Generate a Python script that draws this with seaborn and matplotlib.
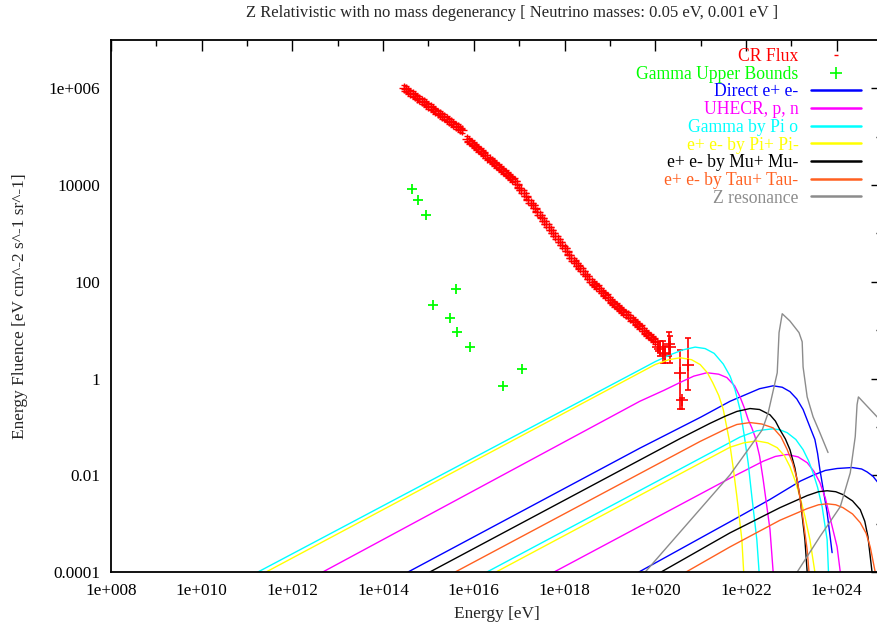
import numpy as np
import pandas as pd
import matplotlib
matplotlib.use("Agg")
import matplotlib.pyplot as plt
from matplotlib.lines import Line2D
from matplotlib.ticker import NullFormatter
import seaborn as sns

sns.set_theme(style="white")
plt.rcParams["font.family"] = ["Liberation Serif", "DejaVu Serif"]

# ---------------- datos (log10) ----------------
title = "Z Relativistic with no mass degenerancy [ Neutrino masses: 0.05 eV, 0.001 eV ]"

x_tick_values = [1e8, 1e10, 1e12, 1e14, 1e16, 1e18, 1e20, 1e22, 1e24]
x_tick_labels = ["1e+008", "1e+010", "1e+012", "1e+014", "1e+016",
                 "1e+018", "1e+020", "1e+022", "1e+024"]
x_minor_values = [1e9, 1e11, 1e13, 1e15, 1e17, 1e19, 1e21, 1e23]
y_tick_values = [1e-4, 1e-2, 1, 1e2, 1e4, 1e6]
y_tick_labels = ["0.0001", "0.01", "1", "100", "10000", "1e+006"]
y_minor_values = [1e-3, 1e-1, 1e1, 1e3, 1e5]

# CR flux (banda densa)
cr_band_loge = [14.45, 14.50, 14.55, 14.60, 14.65, 14.70, 14.75, 14.80, 14.85, 14.90,
                14.95, 15.00, 15.05, 15.10, 15.15, 15.20, 15.25, 15.30, 15.35, 15.40,
                15.45, 15.50, 15.55, 15.60, 15.65, 15.70, 15.75,
                15.85, 15.90, 15.95, 16.00, 16.05, 16.10, 16.15, 16.20, 16.25, 16.30,
                16.35, 16.40, 16.45, 16.50, 16.55, 16.60, 16.65, 16.70, 16.75, 16.80,
                16.85, 16.90, 16.95, 17.00, 17.05, 17.10, 17.15, 17.20, 17.25, 17.30,
                17.35, 17.40, 17.45, 17.50, 17.55, 17.60, 17.65, 17.70, 17.75, 17.80,
                17.85, 17.90, 17.95, 18.00, 18.05, 18.10, 18.15, 18.20, 18.25, 18.30,
                18.35, 18.40, 18.45, 18.50, 18.55, 18.60, 18.65, 18.70, 18.75, 18.80,
                18.85, 18.90, 18.95, 19.00, 19.05, 19.10, 19.15, 19.20, 19.25, 19.30,
                19.35, 19.40, 19.45, 19.50, 19.55, 19.60, 19.65, 19.70, 19.75, 19.80,
                19.85, 19.90, 19.95, 20.00]
cr_band_logf = [6.01, 5.98, 5.95, 5.91, 5.88, 5.85, 5.81, 5.78, 5.74, 5.71,
                5.68, 5.64, 5.61, 5.57, 5.54, 5.50, 5.47, 5.43, 5.40, 5.37,
                5.33, 5.30, 5.27, 5.23, 5.20, 5.16, 5.13,
                4.95, 4.91, 4.87, 4.83, 4.79, 4.74, 4.70, 4.66, 4.62, 4.57,
                4.53, 4.49, 4.45, 4.41, 4.37, 4.33, 4.29, 4.25, 4.21, 4.17,
                4.13, 4.08, 4.02, 3.95, 3.89, 3.83, 3.77, 3.70, 3.64, 3.58,
                3.52, 3.45, 3.39, 3.32, 3.26, 3.20, 3.14, 3.07, 3.01, 2.95,
                2.89, 2.82, 2.76, 2.69, 2.63, 2.56, 2.50, 2.44, 2.39, 2.33,
                2.28, 2.22, 2.17, 2.11, 2.06, 2.00, 1.96, 1.91, 1.87, 1.82,
                1.77, 1.72, 1.68, 1.63, 1.59, 1.54, 1.50, 1.46, 1.42, 1.38,
                1.34, 1.31, 1.26, 1.22, 1.17, 1.13, 1.08, 1.04, 0.99, 0.95,
                0.90, 0.86, 0.81, 0.77]
cr_band_err = 0.06
# CR flux (ultimos puntos, con barras grandes)
cr_tail_loge = [20.07, 20.10, 20.18, 20.22, 20.30, 20.33, 20.55, 20.58, 20.73]
cr_tail_logf = [0.66, 0.62, 0.53, 0.50, 0.72, 0.66, 0.11, -0.44, 0.29]
cr_tail_low = [0.56, 0.47, 0.33, 0.32, 0.47, 0.32, -0.64, -0.64, -0.23]
cr_tail_high = [0.76, 0.77, 0.78, 0.68, 0.97, 0.87, 0.59, -0.40, 0.84]

# Gamma upper bounds
gamma_loge = [14.63, 14.78, 14.94, 15.60, 15.11, 15.47, 15.62, 15.92, 17.06, 16.65]
gamma_logf = [3.92, 3.69, 3.38, 1.86, 1.52, 1.26, 0.96, 0.66, 0.20, -0.16]

# Direct e+ e-
direct_a_loge = [14.55, 19.66, 21.0, 21.65, 22.0, 22.3, 22.60, 22.8, 22.97, 23.12, 23.26,
                 23.41, 23.52, 23.58, 23.63, 23.79, 23.90]
direct_a_logf = [-4.0, -1.44, -0.80, -0.47, -0.33, -0.21, -0.15, -0.18, -0.27, -0.42, -0.64,
                 -1.00, -1.26, -1.55, -1.88, -2.77, -3.60]
direct_b_loge = [19.64, 21.65, 22.53, 23.2, 23.48, 23.75, 24.01, 24.34, 24.55, 24.67, 24.80, 24.91, 25.0]
direct_b_logf = [-4.0, -2.96, -2.50, -2.12, -2.00, -1.90, -1.86, -1.84, -1.87, -1.93, -2.02, -2.15, -2.30]
# UHECR, p, n
uhecr_a_loge = [12.67, 19.66, 20.2, 20.55, 20.85, 21.14, 21.4, 21.58, 21.75, 21.87, 21.97,
                22.05, 22.13, 22.20, 22.30, 22.38, 22.53, 22.60]
uhecr_a_logf = [-4.0, -0.47, -0.24, -0.08, 0.05, 0.12, 0.09, 0.02, -0.15, -0.38, -0.62,
                -0.85, -1.02, -1.20, -1.60, -2.09, -3.12, -4.0]
uhecr_b_loge = [17.77, 21.65, 22.38, 22.65, 22.91, 23.15, 23.35, 23.50, 23.63, 23.75, 23.85, 24.01, 24.08]
uhecr_b_logf = [-4.0, -2.06, -1.71, -1.61, -1.57, -1.62, -1.74, -1.92, -2.15, -2.47, -2.86, -3.48, -4.0]
# Gamma by Pi o
gpi_a_loge = [11.24, 19.66, 20.0, 20.3, 20.6, 20.88, 21.1, 21.3, 21.5, 21.65, 21.76, 21.87,
              21.96, 22.05, 22.13, 22.24, 22.29]
gpi_a_logf = [-4.0, 0.18, 0.35, 0.48, 0.59, 0.65, 0.62, 0.52, 0.30, 0.05, -0.23, -0.64,
              -1.16, -1.75, -2.44, -3.33, -4.0]
gpi_b_loge = [16.29, 19.66, 21.87, 22.24, 22.58, 22.75, 22.91, 23.1, 23.26, 23.38, 23.48,
              23.58, 23.68, 23.79, 23.82]
gpi_b_logf = [-4.0, -2.315, -1.21, -1.08, -1.04, -1.06, -1.12, -1.26, -1.47, -1.70, -1.95,
              -2.25, -2.65, -3.33, -4.0]
# e+ e- by Pi+ Pi-
pi_a_loge = [11.42, 19.66, 20.0, 20.3, 20.55, 20.8, 20.99, 21.15, 21.27, 21.40, 21.50,
             21.63, 21.72, 21.80, 21.91, 21.95]
pi_a_logf = [-4.0, 0.12, 0.29, 0.39, 0.43, 0.39, 0.29, 0.12, -0.09, -0.35, -0.64,
             -1.26, -1.85, -2.44, -3.33, -4.0]
pi_b_loge = [16.49, 21.65, 21.95, 22.24, 22.48, 22.69, 22.85, 22.97, 23.08, 23.19, 23.30, 23.41, 23.52]
pi_b_logf = [-4.0, -1.42, -1.33, -1.29, -1.33, -1.43, -1.60, -1.82, -2.10, -2.44, -2.85, -3.33, -4.0]
# e+ e- by Mu+ Mu-
mu_a_loge = [15.03, 19.66, 20.55, 21.2, 21.54, 21.8, 22.09, 22.3, 22.53, 22.65, 22.75,
             22.87, 22.97, 23.08, 23.19, 23.30, 23.35]
mu_a_logf = [-4.0, -1.685, -1.24, -0.93, -0.78, -0.68, -0.62, -0.64, -0.75, -0.88, -1.06,
             -1.25, -1.47, -1.85, -2.44, -3.33, -4.0]
mu_b_loge = [20.13, 21.65, 22.75, 23.35, 23.6, 23.79, 23.98, 24.14, 24.35, 24.52, 24.62, 24.69, 24.78]
mu_b_logf = [-4.0, -3.19, -2.67, -2.42, -2.34, -2.32, -2.34, -2.40, -2.53, -2.71, -2.95, -3.27, -4.0]
# e+ e- by Tau+ Tau-
tau_a_loge = [15.59, 19.66, 20.99, 21.54, 21.8, 22.09, 22.35, 22.60, 22.77, 22.91, 23.03,
              23.13, 23.24, 23.35, 23.39]
tau_a_logf = [-4.0, -1.965, -1.30, -1.05, -0.95, -0.91, -0.94, -1.02, -1.20, -1.47, -1.75,
              -2.09, -2.77, -3.54, -4.0]
tau_b_loge = [20.68, 21.65, 22.75, 23.35, 23.6, 23.79, 23.98, 24.14, 24.35, 24.52, 24.65, 24.74, 24.85]
tau_b_logf = [-4.0, -3.48, -2.93, -2.69, -2.61, -2.59, -2.61, -2.67, -2.80, -2.98, -3.20, -3.48, -4.0]
# Z resonance
z_a_loge = [19.78, 21.65, 22.36, 22.49, 22.69, 22.73, 22.80, 22.97, 23.17, 23.24, 23.26,
            23.35, 23.48, 23.63, 23.81]
z_a_logf = [-4.0, -1.99, -1.06, -0.71, 0.12, 0.95, 1.34, 1.19, 0.95, 0.76, 0.24,
            -0.38, -0.79, -1.12, -1.53]
z_b_loge = [23.13, 23.63, 24.08, 24.30, 24.41, 24.45, 24.48, 24.74, 24.89, 25.0]
z_b_logf = [-4.0, -3.27, -2.65, -1.95, -1.20, -0.54, -0.38, -0.64, -0.79, -0.89]

processes = ["Direct e+ e-", "UHECR, p, n", "Gamma by Pi o", "e+ e- by Pi+ Pi-",
             "e+ e- by Mu+ Mu-", "e+ e- by Tau+ Tau-", "Z resonance"]
colors = ["#0000ff", "#ff00ff", "#00ffff", "#ffff00", "#000000", "#ff6020", "#8c8c8c"]

curves = [
    ("Direct e+ e-", "a", direct_a_loge, direct_a_logf),
    ("Direct e+ e-", "b", direct_b_loge, direct_b_logf),
    ("UHECR, p, n", "a", uhecr_a_loge, uhecr_a_logf),
    ("UHECR, p, n", "b", uhecr_b_loge, uhecr_b_logf),
    ("Gamma by Pi o", "a", gpi_a_loge, gpi_a_logf),
    ("Gamma by Pi o", "b", gpi_b_loge, gpi_b_logf),
    ("e+ e- by Pi+ Pi-", "a", pi_a_loge, pi_a_logf),
    ("e+ e- by Pi+ Pi-", "b", pi_b_loge, pi_b_logf),
    ("e+ e- by Mu+ Mu-", "a", mu_a_loge, mu_a_logf),
    ("e+ e- by Mu+ Mu-", "b", mu_b_loge, mu_b_logf),
    ("e+ e- by Tau+ Tau-", "a", tau_a_loge, tau_a_logf),
    ("e+ e- by Tau+ Tau-", "b", tau_b_loge, tau_b_logf),
    ("Z resonance", "a", z_a_loge, z_a_logf),
    ("Z resonance", "b", z_b_loge, z_b_logf),
]

rows = []
for proc, mass, le, lf in curves:
    for x, y in zip(le, lf):
        rows.append({"process": proc, "curve": proc + mass,
                     "energy": 10.0 ** x, "fluence": 10.0 ** y})
df = pd.DataFrame(rows)

# ---------------- figura ----------------
fig = plt.figure(figsize=(8.78, 6.29), dpi=100)
ax = fig.add_axes([111 / 878, 57 / 629, 771 / 878, 532 / 629])
ax.set_xscale("log")
ax.set_yscale("log")

# CR flux con barras de error
band_e = 10.0 ** np.array(cr_band_loge)
band_f = 10.0 ** np.array(cr_band_logf)
band_err = [band_f - band_f * 10 ** (-cr_band_err), band_f * 10 ** cr_band_err - band_f]
ax.errorbar(band_e, band_f, yerr=band_err, fmt="+", ms=7.5, mew=1, color="red",
            ecolor="red", elinewidth=1, capsize=2.5, capthick=1)
tail_e = 10.0 ** np.array(cr_tail_loge)
tail_f = 10.0 ** np.array(cr_tail_logf)
tail_err = [tail_f - 10.0 ** np.array(cr_tail_low), 10.0 ** np.array(cr_tail_high) - tail_f]
ax.errorbar(tail_e, tail_f, yerr=tail_err, fmt="+", ms=8, mew=1.2, color="red",
            ecolor="red", elinewidth=1.2, capsize=2, capthick=1)

# Gamma upper bounds
sns.scatterplot(x=10.0 ** np.array(gamma_loge), y=10.0 ** np.array(gamma_logf),
                marker="+", s=45, color="#00ff00", linewidth=1.3, ax=ax, legend=False)

# curvas
sns.lineplot(data=df, x="energy", y="fluence", hue="process", units="curve",
             estimator=None, sort=False, hue_order=processes, palette=colors,
             lw=1.0, legend=False, ax=ax)

ax.set_xlim(1e8, 1e25)
ax.set_ylim(1e-4, 1e7)

ax.set_xticks(x_tick_values)
ax.set_xticklabels(x_tick_labels)
ax.set_xticks(x_minor_values, minor=True)
ax.set_yticks(y_tick_values)
ax.set_yticklabels(y_tick_labels)
ax.set_yticks(y_minor_values, minor=True)
ax.xaxis.set_minor_formatter(NullFormatter())
ax.yaxis.set_minor_formatter(NullFormatter())
ax.tick_params(which="both", direction="in", top=True, right=True, width=1,
               colors="black", labelsize=12.4, pad=8)
ax.tick_params(which="major", length=8)
ax.tick_params(which="minor", length=4)
for s in ax.spines.values():
    s.set_color("black")
    s.set_linewidth(1.3)

ax.set_xlabel("Energy [eV]", fontsize=12.4)
ax.set_ylabel("Energy Fluence [eV cm^-2 s^-1 sr^-1]", fontsize=12.4)
ax.xaxis.set_label_coords(0.5, (572 - 606) / 532)
ax.yaxis.set_label_coords((28 - 111) / 771, 0.5)
fig.text(512 / 878, 1 - 13 / 629, title, ha="center", va="center", fontsize=12)

# leyenda
handles = [Line2D([], [], ls="none", marker="_", ms=3, mew=1, color="red"),
           Line2D([], [], ls="none", marker="+", ms=8, mew=1.2, color="#00ff00")]
handles += [Line2D([], [], color=c, lw=1.8) for c in colors]
legend_labels = ["CR Flux", "Gamma Upper Bounds"] + processes
legend_colors = ["red", "#00ff00"] + colors
ax.legend(handles, legend_labels, loc="upper right",
          bbox_to_anchor=(861 / 878, 1 - 48 / 629), bbox_transform=fig.transFigure,
          markerfirst=False, frameon=False, labelcolor=legend_colors, fontsize=12.7,
          handlelength=2.85, handletextpad=0.7, labelspacing=0.04, borderpad=0,
          borderaxespad=0, numpoints=1)

fig.savefig("out.png", dpi=100)
